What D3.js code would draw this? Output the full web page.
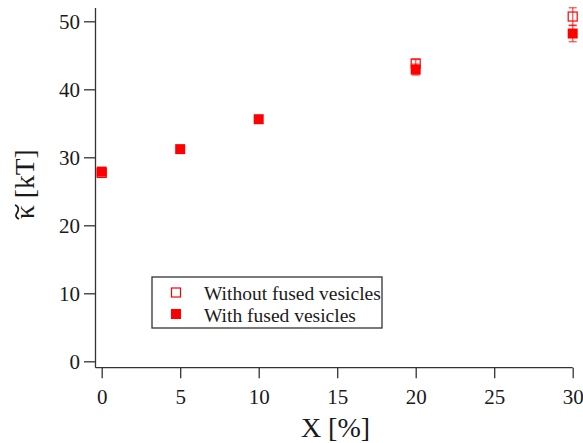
<!DOCTYPE html>
<html><head><meta charset="utf-8">
<script src="https://cdn.jsdelivr.net/npm/d3@7"></script>
<style>body{margin:0;background:#fff}svg{display:block}</style>
</head><body><svg id="c" width="583" height="443"></svg>
<script>
const xWithout = [0, 20, 30];
const yWithout = [27.7, 43.8, 50.7];
const eWithout = [0.4, 0.6, 1.3];
const xWith = [0, 5, 10, 20, 30];
const yWith = [27.9, 31.2, 35.6, 42.9, 48.2];
const eWith = [0.4, 0.3, 0.3, 0.8, 1.2];
const xTicks = [0, 5, 10, 15, 20, 25, 30];
const yTicks = [0, 10, 20, 30, 40, 50];
const legendLabels = ["Without fused vesicles", "With fused vesicles"];

const FONT = "'Liberation Serif', 'Times New Roman', Times, serif";
const svg = d3.select("#c");
const x = d3.scaleLinear().domain([0, 30]).range([101.7, 572.7]);
const y = d3.scaleLinear().domain([0, 50]).range([361.3, 21.3]);
const axisX = 95.5, axisY = 367.7;
const red = "#ff0000";
const ink = "#1a1a1a";

const gx = svg.append("g").attr("transform", `translate(0,${axisY})`)
  .call(d3.axisBottom(x).tickValues(xTicks).tickSize(10.5).tickPadding(6).tickSizeOuter(0));
const gy = svg.append("g").attr("transform", `translate(${axisX},0)`)
  .call(d3.axisLeft(y).tickValues(yTicks).tickSize(11.5).tickPadding(4).tickSizeOuter(0));
[gx, gy].forEach(g => {
  g.attr("font-family", FONT);
  g.select(".domain").remove();
  g.selectAll("line").attr("stroke", "#333").attr("stroke-width", 1.3);
  g.selectAll("text").attr("font-size", 21).attr("fill", ink).style("font-family", FONT);
});
gx.selectAll("text").attr("y", 36).attr("dy", null);
gy.selectAll("text").attr("dy", "0.34em");
svg.append("line").attr("x1", axisX).attr("x2", axisX).attr("y1", 8).attr("y2", axisY)
  .attr("stroke", "#333").attr("stroke-width", 1.3);
svg.append("line").attr("x1", axisX).attr("x2", x(30)).attr("y1", axisY).attr("y2", axisY)
  .attr("stroke", "#333").attr("stroke-width", 1.3);

svg.append("text").attr("x", 335.5).attr("y", 436.5).attr("text-anchor", "middle")
  .style("font-family", FONT).attr("fill", ink).attr("font-size", 28).text("X [%]");
const yg = svg.append("g").attr("transform", "translate(34,219) rotate(-90)");
const yl = yg.append("text").attr("x", 0).attr("y", 0).attr("text-anchor", "start")
  .style("font-family", FONT).attr("fill", ink).attr("font-size", 27.5).text("\u03BA [kT]");
const kw = yl.node().getSubStringLength(0, 1);
const kx = kw / 2;
yg.append("path")
  .attr("d", `M${kx - 7},-15 C${kx - 4},-20.5 ${kx - 1},-17 ${kx},-16.5 S${kx + 5},-14 ${kx + 7},-19`)
  .attr("fill", "none").attr("stroke", ink).attr("stroke-width", 1.7);

function errBars(xs, ys, es) {
  const g = svg.append("g").attr("stroke", red).attr("stroke-opacity", 0.6).attr("stroke-width", 1.5);
  xs.forEach((xv, i) => {
    const cx = x(xv), t = y(ys[i] + es[i]), b = y(ys[i] - es[i]);
    g.append("line").attr("x1", cx).attr("x2", cx).attr("y1", t).attr("y2", b);
    g.append("line").attr("x1", cx - 4).attr("x2", cx + 4).attr("y1", t).attr("y2", t);
    g.append("line").attr("x1", cx - 4).attr("x2", cx + 4).attr("y1", b).attr("y2", b);
  });
}
errBars(xWithout, yWithout, eWithout);
errBars(xWith, yWith, eWith);

const s = 9;
svg.append("g").selectAll("rect").data(xWithout).join("rect")
  .attr("x", (d) => x(d) - s / 2).attr("y", (d, i) => y(yWithout[i]) - s / 2)
  .attr("width", s).attr("height", s).attr("fill", "none").attr("stroke", red).attr("stroke-width", 1.2);
svg.append("g").selectAll("rect").data(xWith).join("rect")
  .attr("x", (d) => x(d) - s / 2 - 0.5).attr("y", (d, i) => y(yWith[i]) - s / 2 - 0.5)
  .attr("width", s + 1).attr("height", s + 1).attr("fill", red);

svg.append("rect").attr("x", 152).attr("y", 277).attr("width", 230).attr("height", 51)
  .attr("fill", "#fff").attr("stroke", "#333").attr("stroke-width", 1.3);
svg.append("rect").attr("x", 176 - 4.5).attr("y", 292.5 - 4.5).attr("width", 9).attr("height", 9)
  .attr("fill", "none").attr("stroke", red).attr("stroke-width", 1.2);
svg.append("rect").attr("x", 176 - 5).attr("y", 314 - 5).attr("width", 10).attr("height", 10)
  .attr("fill", red);
legendLabels.forEach((t, i) => {
  svg.append("text").attr("x", 204).attr("y", 300 + i * 22).attr("font-size", 19.5)
    .style("font-family", FONT).attr("fill", ink).text(t);
});
</script></body></html>
